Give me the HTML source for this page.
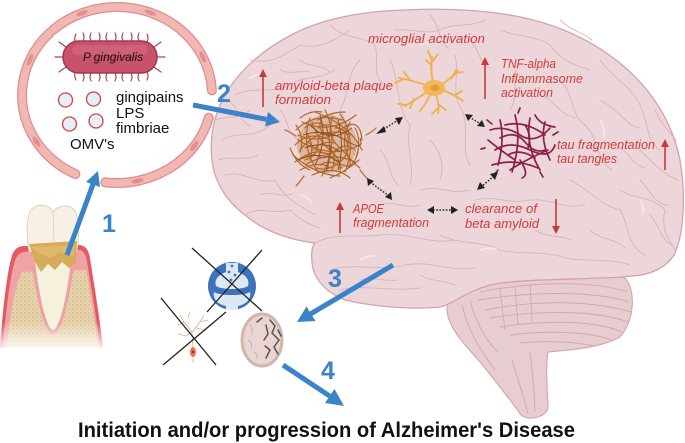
<!DOCTYPE html>
<html><head><meta charset="utf-8"><style>
html,body{margin:0;padding:0;background:#fff;}
svg{display:block;}
text{font-family:"Liberation Sans",Arial,sans-serif;}
</style></head><body>
<svg width="685" height="443" viewBox="0 0 685 443" xmlns="http://www.w3.org/2000/svg">
<defs>
<pattern id="dots" width="4" height="4" patternUnits="userSpaceOnUse">
<rect width="4" height="4" fill="#e7d3aa"/><circle cx="1" cy="1" r="0.7" fill="#c9ae84"/><circle cx="3" cy="3" r="0.5" fill="#d2ba90"/>
</pattern>
<linearGradient id="fade" x1="0" y1="0" x2="0" y2="1">
<stop offset="0" stop-color="#fff" stop-opacity="0"/><stop offset="1" stop-color="#fff" stop-opacity="1"/>
</linearGradient>
</defs>

<!-- ===== Cell ring ===== -->
<g fill="none" stroke-linecap="round">
<g stroke="#dc8e8e" stroke-width="10">
<path d="M53.4,29.6 A95,88 0 0 1 115.3,7"/>
<path d="M118.7,7 A95,88 0 0 1 178.1,27.6"/>
<path d="M180.6,29.6 A95,88 0 0 1 211.9,90.4"/>
<path d="M208.8,117.8 A95,88 0 0 1 170.1,168"/>
<path d="M167.3,169.6 A95,88 0 0 1 105.4,182.4"/>
<path d="M75.4,174.1 A95,88 0 0 1 22,95"/>
<path d="M22.1,91.9 A95,88 0 0 1 49.8,32.8"/>
</g>
<g stroke="#f2b6b3" stroke-width="7.5">
<path d="M53.4,29.6 A95,88 0 0 1 115.3,7"/>
<path d="M118.7,7 A95,88 0 0 1 178.1,27.6"/>
<path d="M180.6,29.6 A95,88 0 0 1 211.9,90.4"/>
<path d="M208.8,117.8 A95,88 0 0 1 170.1,168"/>
<path d="M167.3,169.6 A95,88 0 0 1 105.4,182.4"/>
<path d="M75.4,174.1 A95,88 0 0 1 22,95"/>
<path d="M22.1,91.9 A95,88 0 0 1 49.8,32.8"/>
</g>
</g>
<g fill="#e38e8f">
<ellipse cx="82.1" cy="13.2" rx="6" ry="2.3" transform="rotate(-21 82.1 13.2)"/>
<ellipse cx="150.3" cy="12.6" rx="6" ry="2.3" transform="rotate(20 150.3 12.6)"/>
<ellipse cx="202.8" cy="57.1" rx="6" ry="2.3" transform="rotate(64 202.8 57.1)"/>
<ellipse cx="194.3" cy="146.1" rx="6" ry="2.3" transform="rotate(125 194.3 146.1)"/>
<ellipse cx="137.6" cy="180.9" rx="6" ry="2.3" transform="rotate(167 137.6 180.9)"/>
<ellipse cx="36.4" cy="141.6" rx="6" ry="2.3" transform="rotate(58 36.4 141.6)"/>
<ellipse cx="29.9" cy="59.9" rx="6" ry="2.3" transform="rotate(113 29.9 59.9)"/>
</g>

<!-- Bacterium pili -->
<g stroke="#b3405a" stroke-width="1.2" fill="none" stroke-linecap="round">
<path d="M75,42 q-1,-4 1,-8"/><path d="M83,41 q2,-4 0,-8"/><path d="M91,41 q-2,-4 0,-8"/><path d="M99,41 q2,-4 0,-8"/><path d="M107,41 q-2,-4 0,-8"/><path d="M115,41 q2,-4 0,-8"/><path d="M123,41 q-2,-4 0,-8"/><path d="M131,41 q2,-4 0,-8"/><path d="M139,41 q-2,-4 0,-8"/><path d="M147,42 q2,-4 0,-8"/>
<path d="M75,72 q-1,4 1,8"/><path d="M83,73 q2,4 0,8"/><path d="M91,73 q-2,4 0,8"/><path d="M99,73 q2,4 0,8"/><path d="M107,73 q-2,4 0,8"/><path d="M115,73 q2,4 0,8"/><path d="M123,73 q-2,4 0,8"/><path d="M131,73 q2,4 0,8"/><path d="M139,73 q-2,4 0,8"/><path d="M147,72 q2,4 0,8"/>
<path d="M63,57 l-8,0"/><path d="M66,47 l-7,-5"/><path d="M66,67 l-7,5"/>
<path d="M157,57 l8,0"/><path d="M154,47 l7,-5"/><path d="M154,67 l7,5"/>
</g>
<rect x="63" y="41" width="94" height="32" rx="16" fill="#c9526b" stroke="#a0374f" stroke-width="1.5"/>
<rect x="72" y="45" width="76" height="10" rx="5" fill="#d56b80" opacity="0.6"/>
<text x="113" y="61" font-size="12" font-style="italic" text-anchor="middle" fill="#111">P gingivalis</text>

<!-- OMVs -->
<g fill="#e8eef8" stroke="#d0473a" stroke-width="1.3">
<circle cx="65.5" cy="100" r="7"/><circle cx="93.5" cy="99" r="7"/><circle cx="69.5" cy="124" r="7"/><circle cx="96" cy="121" r="7"/>
</g>
<g font-size="15" fill="#111">
<text x="116" y="102">gingipains</text>
<text x="116" y="118">LPS</text>
<text x="116" y="133">fimbriae</text>
<text x="70" y="149">OMV's</text>
</g>

<!-- ===== Tooth ===== -->
<path d="M0,348 C3,305 8,265 13,253 Q18,243 32,247 L80,245 Q88,246 90,258 C95,290 100,320 103,348 Z" fill="#e35a63"/>
<path d="M3,348 C6,308 11,270 16,258 Q20,250 32,252 L80,250 Q86,252 87,262 C92,292 97,322 100,348 Z" fill="#f0a3a4"/>
<path d="M7,348 C10,312 15,287 22,272 L86,270 C90,292 95,322 98,348 Z" fill="url(#dots)"/>
<path d="M32,266 C37,300 44,332 53,335 C62,332 69,300 74,266 Z" fill="#ee9fa3"/>
<path d="M35,262 C40,300 46,328 53,330 C60,328 66,300 71,262 Z" fill="#f6f1dc"/>
<path d="M29,252 C26,232 26,214 33,208 C40,203 50,205 53,212 C57,205 69,204 74,210 C80,217 79,236 77,252 Z" fill="#f6f1e4" stroke="#d6cbb2" stroke-width="0.8"/>
<path d="M53,212 C54,224 52,232 55,244" stroke="#ddd2bb" stroke-width="0.8" fill="none"/>
<path d="M29,244 L77,241 L76,262 L69,268 L62,262 L55,270 L48,264 L41,272 L35,262 Z" fill="#d6ab5c"/>
<path d="M31,247 L75,245 L73,256 L60,252 L50,258 L40,254 Z" fill="#e2bd72" opacity="0.7"/>
<rect x="0" y="322" width="104" height="30" fill="url(#fade)"/>

<!-- ===== Brain ===== -->
<path d="M470,285 C520,272 600,268 625,278 C636,290 635,320 620,337 C600,348 570,350 548,352 C545,370 548,395 548,408 C545,418 530,420 522,416 C510,400 495,380 480,362 C465,345 450,330 447,312 C446,300 455,290 470,285 Z" fill="#e7ccd0" stroke="#d3a5ab" stroke-width="1.1"/>
<g fill="none" stroke="#d4a7ad" stroke-width="0.9">
<path d="M480,292 C530,282 590,280 628,292"/>
<path d="M478,300 C530,292 590,290 630,302"/>
<path d="M485,310 C535,300 590,300 631,312"/>
<path d="M490,318 C540,310 595,310 628,322"/>
<path d="M500,327 C545,320 595,320 622,332"/>
<path d="M510,335 C550,330 590,332 612,340"/>
<path d="M520,343 C550,340 575,342 595,346"/>
<path d="M470,300 C475,320 485,340 498,352"/>
<path d="M462,305 C468,330 480,350 495,370"/>
<path d="M530,352 C532,370 535,395 535,412"/>
<path d="M512,360 C518,380 525,400 528,414"/>
<path d="M500,290 L505,330"/><path d="M515,287 L518,325"/><path d="M530,285 L532,322"/>
</g>
<path d="M315,243 C290,240 265,232 245,215 C225,200 214,180 212,160 C209,135 215,110 228,90 C242,68 265,48 295,33 C325,18 365,11 405,10 C445,8 490,10 525,18 C565,27 600,45 628,70 C655,95 673,125 680,160 C686,195 684,235 674,255 C666,268 650,275 632,276 C600,280 520,278 490,285 C465,292 455,303 440,307 C410,310 370,306 345,300 C325,292 313,278 312,262 C311,252 312,246 315,243 Z" fill="#ecd6d9" stroke="#d3a3a9" stroke-width="1.3"/>
<g fill="none" stroke="#dbb2b8" stroke-width="0.9" stroke-linecap="round">
<path d="M235,95 C255,85 270,95 290,85 C305,75 320,80 335,70"/>
<path d="M222,140 C240,130 255,140 270,125"/>
<path d="M225,175 C245,170 255,185 275,180 C285,200 300,205 315,215"/>
<path d="M250,60 C270,65 285,55 300,45 C320,50 335,40 350,30"/>
<path d="M330,25 C345,40 360,35 375,45 C380,60 370,75 385,85"/>
<path d="M360,60 C345,75 350,95 340,110 C350,125 345,140 355,155"/>
<path d="M395,30 C410,28 425,35 440,30 C455,22 470,28 485,20"/>
<path d="M390,60 C400,80 395,105 410,125 C405,145 415,165 410,185"/>
<path d="M455,55 C460,75 450,95 462,110 C470,130 460,150 470,165"/>
<path d="M500,30 C520,38 535,35 550,45 C560,60 575,65 590,70"/>
<path d="M520,60 C510,75 520,95 510,110"/>
<path d="M560,80 C575,95 570,115 585,125 C600,140 595,160 612,170"/>
<path d="M600,60 C615,80 630,85 640,105 C650,125 645,140 660,150"/>
<path d="M620,190 C635,200 650,195 665,210 C660,230 670,240 675,250"/>
<path d="M570,180 C590,190 600,205 620,210 C630,225 625,245 645,255"/>
<path d="M475,200 C495,195 510,205 530,200 C550,198 565,210 585,205"/>
<path d="M440,235 C460,245 480,240 500,250 C520,255 545,250 565,258 C590,262 610,258 630,265"/>
<path d="M315,243 C335,232 360,238 380,235 C410,232 430,245 455,240"/>
<path d="M330,270 C355,262 380,272 405,265 C430,260 450,272 475,268"/>
<path d="M340,290 C365,284 390,292 420,288"/>
<path d="M245,215 C260,205 270,215 290,210 C300,220 310,225 320,228"/>
<path d="M215,120 C230,115 240,120 250,110"/>
<path d="M280,110 C290,120 285,135 300,140"/>
<path d="M420,190 C440,185 450,195 470,190"/>
<path d="M640,150 C655,165 665,175 678,180"/>
<path d="M540,95 C555,100 560,115 575,118"/>
<path d="M600,100 C620,110 625,125 640,128"/>
<path d="M650,215 C660,225 660,240 672,245"/>
<path d="M380,205 C395,200 405,210 420,205"/>
<path d="M280,70 C290,75 300,70 310,72"/>
<path d="M430,15 C440,25 438,40 448,48"/>
<path d="M590,230 C600,240 615,238 625,248"/>
<path d="M228,100 C240,108 238,120 250,126"/>
<path d="M218,160 C232,155 245,162 258,155"/>
<path d="M300,60 C310,68 322,64 330,72"/>
<path d="M470,40 C480,50 478,62 490,68"/>
<path d="M615,145 C628,150 632,165 645,168"/>
<path d="M640,180 C650,190 655,205 668,205"/>
<path d="M535,230 C548,238 560,235 572,240"/>
<path d="M380,150 C390,160 388,175 398,185"/>
<path d="M430,140 C440,150 445,165 440,180"/>
<path d="M260,195 C272,190 280,198 292,194"/>
<path d="M360,280 C375,276 385,282 398,280"/>
<path d="M420,275 C432,282 445,280 455,285"/>
<path d="M655,110 C662,125 668,130 676,140"/>
<path d="M560,20 C570,30 582,32 592,40"/>
</g>
<g fill="none" stroke="#f6e8ea" stroke-width="2" stroke-linecap="round" opacity="0.9">
<path d="M250,78 q8,-5 16,-4"/><path d="M420,45 q8,-4 15,-2"/><path d="M600,120 q5,8 4,16"/><path d="M480,250 q8,-3 16,-1"/><path d="M360,260 q6,-4 14,-4"/><path d="M640,200 q4,6 3,14"/><path d="M300,195 q8,2 12,8"/>
</g>

<!-- Plaque -->
<ellipse cx="327" cy="144" rx="30" ry="29" fill="#c27a3a" opacity="0.35"/>
<g fill="none" stroke="#b0672a" stroke-width="1.2" stroke-linecap="round">
<path d="M296,130 Q315,112 342,120"/><path d="M300,150 Q320,125 352,135"/><path d="M305,165 Q330,150 355,162"/><path d="M298,140 Q330,160 360,145"/>
<path d="M310,118 Q300,145 318,172"/><path d="M325,110 Q340,140 322,176"/><path d="M340,114 Q358,140 345,172"/><path d="M350,122 Q335,150 360,168"/>
<path d="M293,155 Q315,175 340,176"/><path d="M302,122 Q330,135 356,115"/><path d="M315,112 Q350,125 362,150"/><path d="M295,145 Q310,130 330,140"/>
<path d="M318,128 Q330,120 345,132"/><path d="M308,142 Q325,160 338,150"/><path d="M330,155 Q345,140 355,150"/><path d="M300,170 Q320,160 330,168"/>
<path d="M312,175 Q335,165 350,178"/><path d="M318,138 Q320,155 305,160"/><path d="M335,128 Q350,128 348,145"/><path d="M296,125 Q305,138 300,152"/>
<path d="M342,160 Q330,172 316,168"/><path d="M322,118 Q315,132 330,135"/><path d="M355,128 Q362,140 356,158"/><path d="M306,132 Q315,145 310,160"/>
<path d="M328,145 Q338,155 332,170"/><path d="M290,148 Q297,165 310,170"/><path d="M345,112 Q330,112 318,120"/><path d="M359,160 Q345,172 330,178"/>
<path d="M300,118 Q310,110 322,112"/><path d="M313,150 Q322,140 335,143"/>
<path d="M285,130 Q290,132 296,136"/><path d="M360,170 Q366,178 372,183"/><path d="M304,176 Q300,182 296,186"/><path d="M366,135 Q372,132 376,128"/>
<path d="M298,135 Q320,145 340,130 T362,140"/><path d="M302,158 Q318,145 335,160 T358,152"/><path d="M312,122 Q318,140 330,150 T340,172"/>
<path d="M333,116 Q325,135 340,148 T348,168"/><path d="M295,162 Q310,150 322,158"/><path d="M345,138 Q352,150 342,160"/>
<path d="M320,165 Q330,158 342,168"/><path d="M305,128 Q312,120 325,125"/>
</g>
<g fill="none" stroke="#8f4f1c" stroke-width="1">
<path d="M303,135 Q325,128 345,140 T360,138"/><path d="M298,160 Q320,150 340,162"/><path d="M320,115 Q328,140 315,165"/><path d="M338,120 Q345,145 338,170"/><path d="M310,125 Q330,145 352,128"/>
<path d="M305,148 Q325,140 340,152"/><path d="M326,126 Q334,150 326,172"/>
</g>

<!-- Microglia -->
<g fill="none" stroke="#f0b24c" stroke-width="1.9" stroke-linecap="round">
<path d="M433,82 Q430,70 432,57"/><path d="M432,66 L426,60"/><path d="M432,62 L438,54"/><path d="M431,58 L428,51"/>
<path d="M426,85 Q410,80 399,78"/><path d="M410,80 L404,72"/><path d="M404,79 L395,83"/>
<path d="M427,92 Q415,100 405,106"/><path d="M414,99 L410,108"/><path d="M406,105 L398,104"/>
<path d="M442,84 Q452,78 458,71"/><path d="M452,78 L456,70"/><path d="M457,73 L463,72"/>
<path d="M443,90 Q455,95 463,101"/><path d="M455,95 L462,91"/>
<path d="M436,95 Q440,105 438,113"/><path d="M439,105 L446,110"/><path d="M437,109 L432,114"/>
<path d="M430,95 Q425,105 420,111"/>
</g>
<ellipse cx="434" cy="88" rx="11" ry="8" fill="#f3b756"/>
<ellipse cx="435" cy="88" rx="4.5" ry="3.2" fill="#e49a3a"/>

<!-- Tau tangle -->
<g fill="none" stroke="#8c1f4a" stroke-width="1.7" stroke-linecap="round">
<path d="M490,130 Q505,125 520,135 T550,128"/><path d="M495,150 Q510,140 530,150 T555,145"/><path d="M500,120 Q505,140 498,165"/>
<path d="M515,115 Q522,140 512,172"/><path d="M530,118 Q525,145 540,170"/><path d="M545,122 Q540,140 550,160"/>
<path d="M492,165 Q515,158 538,168"/><path d="M505,125 Q525,120 545,135"/><path d="M488,140 Q500,150 515,160"/>
<path d="M510,170 Q525,160 548,150"/><path d="M535,115 Q540,125 555,127"/><path d="M520,160 Q530,175 522,178"/>
<path d="M492,124 l-5,-4"/><path d="M553,135 l5,-3"/><path d="M498,170 l-4,5"/><path d="M540,172 l3,5"/><path d="M518,113 l2,-5"/><path d="M485,148 l-4,1"/>
<path d="M500,138 Q515,130 525,142 T545,150"/><path d="M508,155 Q520,148 535,158"/><path d="M525,125 Q532,135 528,148"/>
</g>

<!-- black dotted double arrows -->
<g stroke="#222" stroke-width="1.4" stroke-dasharray="1.6 1.6" fill="none">
<path d="M381,131 L398,120"/><path d="M469,117 L481,124"/><path d="M370,182 L389,196"/><path d="M433,210 L452,210"/><path d="M494,176 L481,187"/>
</g>
<g fill="#222">
<polygon points="376,134 384,126 386,132"/><polygon points="403,117 395,118 399,125"/>
<polygon points="465,114 473,115 468,121"/><polygon points="485,127 477,126 482,120"/>
<polygon points="367,178 368,186 374,181"/><polygon points="392,200 391,192 385,197"/>
<polygon points="427,210 434,206 434,214"/><polygon points="458,210 451,206 451,214"/>
<polygon points="498,172 490,174 495,180"/><polygon points="477,190 485,188 480,182"/>
</g>

<!-- red arrows -->
<g stroke="#c9383a" stroke-width="1.6">
<line x1="263" y1="107" x2="263" y2="76"/><line x1="485" y1="99" x2="485" y2="64"/><line x1="665" y1="170" x2="665" y2="146"/><line x1="340" y1="233" x2="340" y2="209"/><line x1="556" y1="199" x2="556" y2="227"/>
</g>
<g fill="#c9383a">
<polygon points="263,69 259,77 267,77"/><polygon points="485,57 481,65 489,65"/><polygon points="665,139 661,147 669,147"/><polygon points="340,202 336,210 344,210"/><polygon points="556,234 552,226 560,226"/>
</g>

<!-- red labels -->
<g font-size="13" font-style="italic" fill="#d23a3c">
<text x="368" y="43" textLength="117" lengthAdjust="spacingAndGlyphs">microglial activation</text>
<text x="275" y="90" textLength="118" lengthAdjust="spacingAndGlyphs">amyloid-beta plaque</text>
<text x="275" y="104" textLength="56" lengthAdjust="spacingAndGlyphs">formation</text>
<text x="501" y="68" textLength="55" lengthAdjust="spacingAndGlyphs">TNF-alpha</text>
<text x="501" y="83" textLength="82" lengthAdjust="spacingAndGlyphs">Inflammasome</text>
<text x="501" y="97" textLength="52" lengthAdjust="spacingAndGlyphs">activation</text>
<text x="557" y="149" textLength="98" lengthAdjust="spacingAndGlyphs">tau fragmentation</text>
<text x="557" y="163" textLength="60" lengthAdjust="spacingAndGlyphs">tau tangles</text>
<text x="353" y="213" textLength="31" lengthAdjust="spacingAndGlyphs">APOE</text>
<text x="353" y="227" textLength="76" lengthAdjust="spacingAndGlyphs">fragmentation</text>
<text x="465" y="213" textLength="72" lengthAdjust="spacingAndGlyphs">clearance of</text>
<text x="465" y="228" textLength="74" lengthAdjust="spacingAndGlyphs">beta amyloid</text>
</g>

<!-- ===== Middle icons ===== -->
<circle cx="232" cy="286" r="24" fill="#3d73bd"/>
<path d="M226,263 L238,263 L238,272 C246,275 250,280 248,286 C242,290 222,290 216,286 C214,280 218,275 226,272 Z" fill="#dde8f6"/>
<path d="M214,292 C220,296 244,296 250,292 C252,300 244,305 238,306 L238,310 L226,310 L226,306 C220,305 212,300 214,292 Z" fill="#dde8f6"/>
<g fill="#3d73bd"><circle cx="232" cy="266" r="1.4"/><circle cx="229" cy="272" r="1.4"/><circle cx="235" cy="275" r="1.4"/><circle cx="231" cy="280" r="1.4"/></g>

<!-- neuron -->
<g fill="none" stroke="#f0a47e" stroke-width="0.8">
<path d="M193,348 L192,332 L184,322 L180,315"/><path d="M192,332 L200,322 L204,315"/><path d="M184,322 L178,325"/><path d="M200,322 L208,320"/><path d="M192,332 L186,336 L178,334"/><path d="M196,328 L205,330 L210,326"/><path d="M188,318 L190,312"/><path d="M193,357 L193,363"/>
</g>
<ellipse cx="193" cy="352" rx="3" ry="5" fill="#e8764a"/><circle cx="193" cy="352" r="1.2" fill="#b82020"/>

<!-- brain scan -->
<ellipse cx="262" cy="340" rx="20" ry="26" fill="#ead5d4" stroke="#cbb8a6" stroke-width="3"/>
<g fill="none" stroke="#5a5252" stroke-width="1.5" stroke-linecap="round">
<path d="M270,320 L275,326 L272,333 L279,340 L274,347 L278,354"/><path d="M266,325 L268,334 L264,340"/><path d="M265,346 L270,350 L266,358"/><path d="M278,330 L281,336"/><path d="M257,322 L262,318"/>
</g>
<g fill="none" stroke="#b9a3a3" stroke-width="0.7">
<path d="M250,325 q4,5 1,10"/><path d="M248,340 q5,3 3,9"/><path d="M254,352 q4,2 3,7"/>
</g>

<!-- X lines -->
<g stroke="#222" stroke-width="1.3">
<line x1="192" y1="248" x2="262" y2="311"/><line x1="262" y1="250" x2="207" y2="312"/>
<line x1="161" y1="298" x2="216" y2="365"/><line x1="226" y1="312" x2="163" y2="365"/>
</g>

<!-- ===== Blue arrows ===== -->
<g stroke="#3a83c8" stroke-width="5" stroke-linecap="butt">
<line x1="67" y1="255" x2="93.1" y2="184.1"/>
<line x1="193" y1="105" x2="266.3" y2="119.3"/>
<line x1="393" y1="265" x2="310.8" y2="313.8"/>
<line x1="283" y1="365" x2="329.7" y2="396.1"/>
</g>
<g fill="#3a83c8">
<polygon points="98,171 100,187 86,182"/>
<polygon points="280,122 265,126.5 268,112"/>
<polygon points="297,322 315.5,321 306.5,306.5"/>
<polygon points="344,406 325,403 334.5,389"/>
</g>
<g font-size="25" font-weight="bold" fill="#3a83c8">
<text x="102" y="232">1</text>
<text x="217" y="102">2</text>
<text x="328" y="287">3</text>
<text x="321" y="379">4</text>
</g>

<!-- Title -->
<text x="78" y="437" font-size="21" font-weight="bold" fill="#111" textLength="497" lengthAdjust="spacingAndGlyphs">Initiation and/or progression of Alzheimer's Disease</text>
</svg>
</body></html>
